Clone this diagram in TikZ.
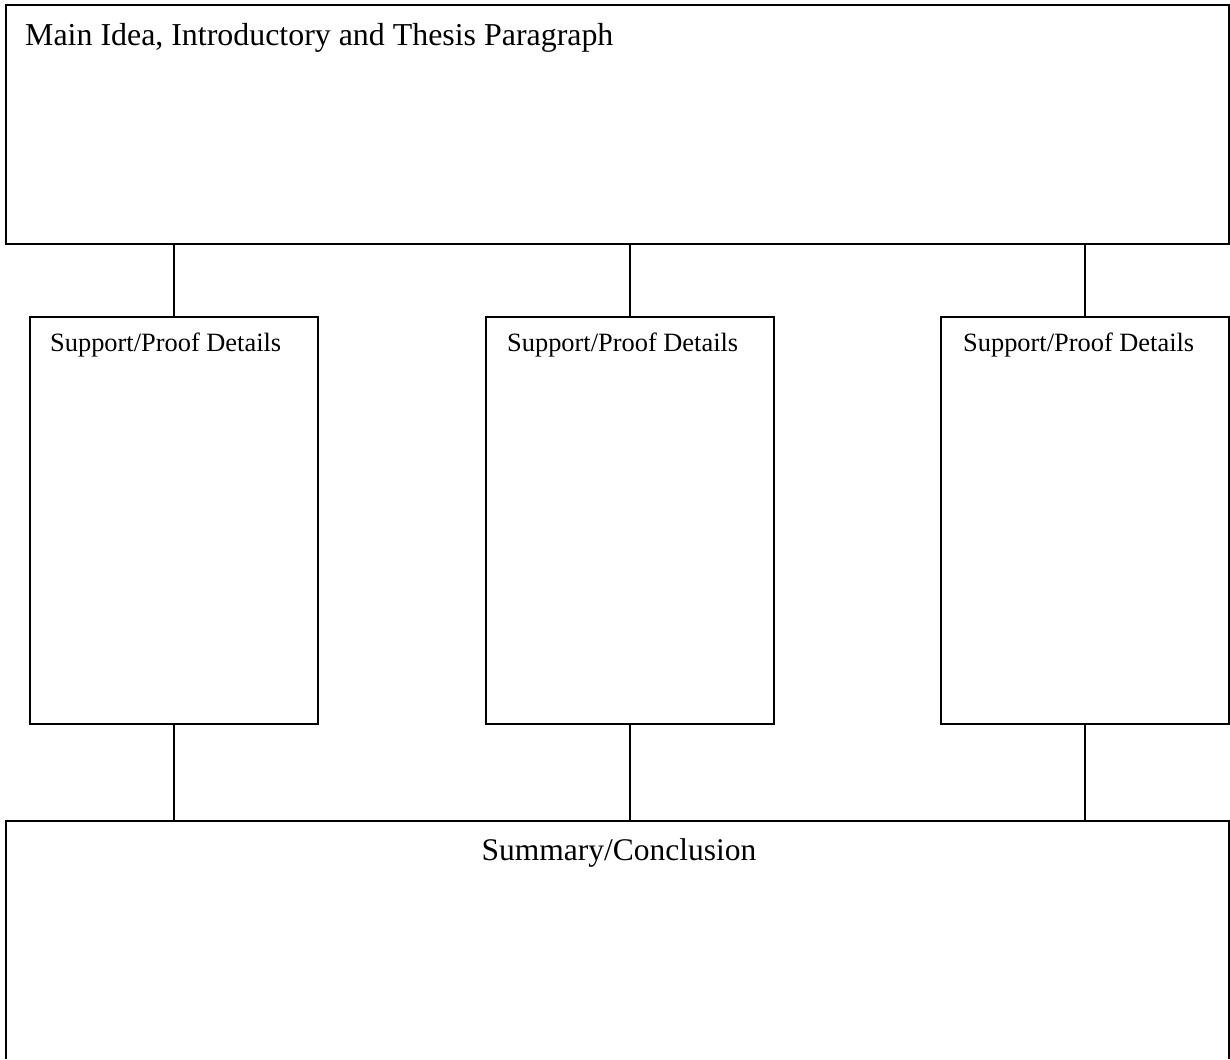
\documentclass[tikz,border=0pt]{standalone}
\usepackage{fontspec}
\setmainfont{Liberation Serif}
\begin{document}
\begin{tikzpicture}[x=1pt,y=-1pt,
  frame/.style={draw,line width=1.4pt,inner sep=0pt,outer sep=0pt},
  conn/.style={line width=1.4pt},
  lbl/.style={inner sep=0pt,anchor=base west,font=\fontsize{26.4}{30}\selectfont}]
\useasboundingbox (0,0) rectangle (1230,1059);
% top box
\node[frame,minimum width=1223pt,minimum height=239pt] (main) at (617.5,124.5) {};
\node[lbl,font=\fontsize{31.9}{36}\selectfont] (mainlbl) at (25,46) {Main Idea, Introductory and Thesis Paragraph};
% support boxes
\node[frame,minimum width=288pt,minimum height=407pt] (s1) at (174,520.5) {};
\node[frame,minimum width=288pt,minimum height=407pt] (s2) at (630,520.5) {};
\node[frame,minimum width=288pt,minimum height=407pt] (s3) at (1085,520.5) {};
\node[lbl] (l1) at (50,351) {Support/Proof Details};
\node[lbl] (l2) at (507,351) {Support/Proof Details};
\node[lbl] (l3) at (963,351) {Support/Proof Details};
% bottom box (open at the bottom edge of the page)
\node[inner sep=0pt,outer sep=0pt,minimum width=1223pt,minimum height=238pt] (sum) at (617.5,940) {};
\draw[conn] (sum.south west) -- (sum.north west) -- (sum.north east) -- (sum.south east);
\node[lbl,anchor=base,font=\fontsize{31.5}{36}\selectfont] (sumlbl) at (619,860) {Summary/Conclusion};
% connectors
\draw[conn] (main.south -| s1.north) -- (s1.north);
\draw[conn] (main.south -| s2.north) -- (s2.north);
\draw[conn] (main.south -| s3.north) -- (s3.north);
\draw[conn] (s1.south) -- (s1.south |- sum.north);
\draw[conn] (s2.south) -- (s2.south |- sum.north);
\draw[conn] (s3.south) -- (s3.south |- sum.north);
\end{tikzpicture}
\end{document}
